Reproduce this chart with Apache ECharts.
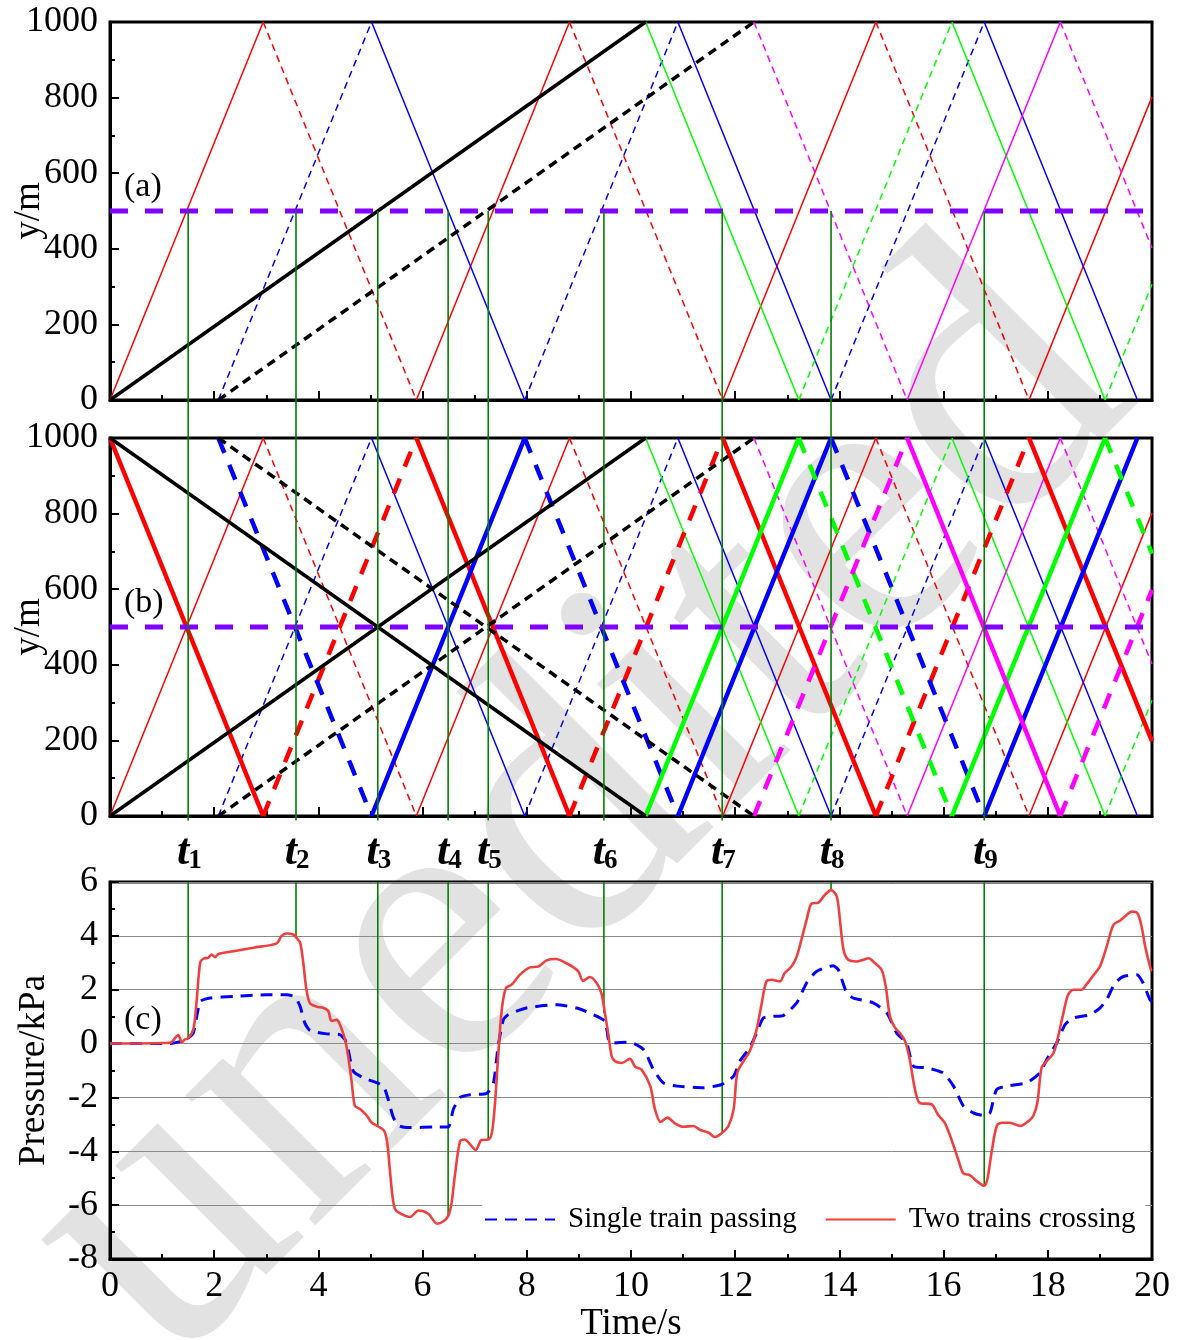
<!DOCTYPE html>
<html>
<head>
<meta charset="utf-8">
<title>Pressure waves and trains in a tunnel</title>
<script src="https://cdn.jsdelivr.net/npm/echarts/dist/echarts.min.js"></script>
<style>
  html, body { margin: 0; padding: 0; background: #fff; }
  #main { width: 1179px; height: 1340px; }
</style>
</head>
<body>
<div id="main"></div>
<script>
// ---- time-position paths (s, m) ----
// trains entering from y = 0
const trainUp1 = [[0, 0], [10.28, 1000]];
const trainUp2 = [[2.08, 0], [12.36, 1000]];
// trains entering from y = 1000
const trainDown1 = [[0, 1000], [10.28, 0]];
const trainDown2 = [[2.08, 1000], [12.36, 0]];

// pressure-wave fronts, vertex by vertex (reflections at the portals)
const waveRedUp = [[0, 0], [2.94, 1000], [5.88, 0], [8.82, 1000], [11.76, 0], [14.70, 1000], [17.64, 0], [20, 802]];
const waveBlueUp = [[2.08, 0], [5.02, 1000], [7.96, 0], [10.90, 1000], [13.84, 0], [16.78, 1000], [19.72, 0]];
const waveGreenDown = [[10.28, 1000], [13.22, 0], [16.16, 1000], [19.10, 0], [20, 306]];
const waveMagentaDown = [[12.36, 1000], [15.30, 0], [18.24, 1000], [20, 402]];

const waveRedDown = [[0, 1000], [2.94, 0], [5.88, 1000], [8.82, 0], [11.76, 1000], [14.70, 0], [17.64, 1000], [20, 198]];
const waveBlueDown = [[2.08, 1000], [5.02, 0], [7.96, 1000], [10.90, 0], [13.84, 1000], [16.78, 0], [19.72, 1000]];
const waveGreenUp = [[10.28, 0], [13.22, 1000], [16.16, 0], [19.10, 1000], [20, 694]];
const waveMagentaUp = [[12.36, 0], [15.30, 1000], [18.24, 0], [20, 598]];

// measuring point (m)
const measurePoint = 500;

// characteristic instants t1..t9 (s) and the crossing pressure at each (kPa)
const eventTimes = [1.50, 3.57, 5.14, 6.49, 7.26, 9.48, 11.75, 13.84, 16.78];
const eventPressure = [0.19, 3.93, -3.07, -6.41, -3.56, 1.13, -3.31, 5.70, -5.28];

// ---- pressure histories at the measuring point: [time s, pressure kPa] ----
const pressureSingle = [
  [0, 0], [1.15, 0], [1.40, 0.1], [1.50, 0.2], [1.60, 0.4], [1.69, 1.26], [1.73, 1.57], [1.92, 1.69],
  [2.37, 1.75], [3.00, 1.81], [3.39, 1.81], [3.55, 1.73], [3.65, 1.38], [3.74, 0.76], [3.84, 0.49],
  [4.16, 0.36], [4.41, 0.33], [4.51, 0.15], [4.57, -0.22], [4.67, -1.03], [4.86, -1.27], [5.13, -1.46],
  [5.25, -1.58], [5.34, -2.07], [5.44, -2.75], [5.56, -3.06], [5.76, -3.12], [6.21, -3.10], [6.49, -3.10],
  [6.59, -2.44], [6.72, -2.00], [6.91, -1.90], [7.23, -1.85], [7.36, -1.46], [7.45, -0.10], [7.55, 0.89],
  [7.64, 1.07], [7.99, 1.32], [8.57, 1.44], [8.96, 1.32], [9.21, 1.13], [9.50, 0.83], [9.60, 0.02],
  [9.98, 0.05], [10.24, -0.22], [10.43, -0.96], [10.62, -1.46], [10.88, -1.58], [11.39, -1.64],
  [11.74, -1.52], [11.97, -1.21], [12.09, -0.65], [12.28, -0.16], [12.41, 0.39], [12.54, 0.95],
  [12.73, 1.01], [12.92, 1.04], [13.18, 1.51], [13.37, 2.25], [13.56, 2.68], [13.88, 2.89], [13.98, 2.74],
  [14.14, 1.88], [14.27, 1.69], [14.65, 1.51], [14.91, 1.14], [15.10, 0.39], [15.29, 0.02], [15.42, -0.84],
  [15.67, -0.90], [15.99, -1.09], [16.19, -1.58], [16.38, -2.32], [16.57, -2.57], [16.76, -2.67],
  [16.89, -2.57], [17.02, -1.70], [17.27, -1.56], [17.59, -1.46], [17.85, -1.09], [17.98, -0.59],
  [18.17, 0.02], [18.33, 0.70], [18.49, 0.95], [18.81, 1.07], [19.00, 1.32], [19.13, 1.63], [19.29, 2.25],
  [19.45, 2.49], [19.71, 2.56], [19.83, 2.25], [19.96, 1.63], [20, 1.55]
];
const pressureCrossing = [
  [0, 0], [1.15, 0.03], [1.31, 0.32], [1.38, 0.04], [1.44, 0.16], [1.50, 0.19], [1.60, 0.53], [1.66, 1.52],
  [1.73, 3.0], [1.79, 3.15], [1.89, 3.19], [1.95, 3.31], [2.02, 3.21], [2.08, 3.33], [2.37, 3.43], [2.75, 3.56],
  [3.20, 3.72], [3.29, 3.99], [3.39, 4.09], [3.52, 4.05], [3.58, 3.93], [3.65, 3.74], [3.71, 3.0], [3.77, 2.01],
  [3.84, 1.49], [3.97, 1.37], [4.09, 1.33], [4.19, 1.21], [4.25, 0.84], [4.35, 0.88], [4.41, 0.72], [4.51, 0.16],
  [4.57, -0.46], [4.64, -1.44], [4.70, -2.31], [4.80, -2.43], [4.93, -2.68], [5.02, -2.93], [5.14, -3.07],
  [5.26, -3.23], [5.32, -3.67], [5.37, -4.65], [5.42, -5.64], [5.47, -6.14], [5.56, -6.30], [5.76, -6.44],
  [5.92, -6.20], [6.11, -6.32], [6.28, -6.69], [6.40, -6.60], [6.49, -6.41], [6.55, -6.0], [6.62, -4.9],
  [6.72, -3.62], [6.81, -3.56], [6.91, -3.74], [7.02, -3.95], [7.13, -3.58], [7.26, -3.56], [7.33, -3.31],
  [7.39, -2.2], [7.45, -0.47], [7.52, 1.26], [7.60, 2.06], [7.71, 2.19], [7.87, 2.56], [8.06, 2.83],
  [8.22, 2.86], [8.38, 3.09], [8.57, 3.14], [8.73, 3.01], [8.89, 2.84], [8.99, 2.68], [9.08, 2.33],
  [9.21, 2.47], [9.34, 2.25], [9.43, 1.88], [9.50, 1.13], [9.56, 0.39], [9.63, -0.47], [9.69, -0.65],
  [9.82, -0.72], [9.98, -0.57], [10.08, -0.86], [10.20, -0.96], [10.37, -1.58], [10.46, -2.44],
  [10.57, -2.91], [10.70, -2.75], [10.84, -2.96], [11.00, -3.09], [11.20, -3.06], [11.33, -3.21],
  [11.49, -3.31], [11.61, -3.47], [11.75, -3.31], [11.87, -3.06], [11.97, -2.44], [12.04, -1.09],
  [12.16, -0.65], [12.28, -0.28], [12.41, 0.52], [12.51, 1.51], [12.60, 2.31], [12.70, 2.37], [12.86, 2.31],
  [12.95, 2.62], [13.08, 2.86], [13.18, 3.23], [13.27, 3.85], [13.37, 4.59], [13.47, 5.21], [13.59, 5.23],
  [13.72, 5.52], [13.84, 5.70], [13.95, 5.46], [14.01, 4.59], [14.08, 3.48], [14.17, 3.11], [14.33, 3.05],
  [14.43, 3.09], [14.56, 3.17], [14.68, 2.99], [14.81, 2.74], [14.89, 2.12], [14.97, 1.01], [15.07, 0.58],
  [15.16, 0.39], [15.26, 0.09], [15.35, -0.59], [15.45, -1.70], [15.54, -2.20], [15.77, -2.26],
  [15.89, -2.63], [16.02, -2.94], [16.15, -3.56], [16.28, -4.30], [16.38, -4.82], [16.51, -4.89],
  [16.63, -5.10], [16.78, -5.28], [16.84, -5.04], [16.92, -4.05], [17.02, -3.06], [17.12, -2.94],
  [17.27, -2.94], [17.47, -3.06], [17.63, -2.88], [17.72, -2.69], [17.80, -2.20], [17.88, -0.90],
  [17.98, -0.65], [18.11, -0.35], [18.20, 0.27], [18.30, 1.14], [18.39, 1.81], [18.49, 2.00], [18.65, 2.00],
  [18.74, 2.19], [18.87, 2.52], [19.00, 2.86], [19.13, 3.60], [19.26, 4.41], [19.39, 4.57], [19.48, 4.72],
  [19.61, 4.90], [19.72, 4.84], [19.80, 4.35], [19.87, 3.60], [19.98, 2.74], [20, 2.70]
];

// ---- axis ticks ----
const timeRange = [0, 20, 2];
const positionRange = [0, 1000, 200];
const pressureRange = [-8, 6, 2];
const eventLabels = ['1', '2', '3', '4', '5', '6', '7', '8', '9'];

// ---- drawing ----
const FONT = '"Liberation Serif", "Times New Roman", serif';
const RED = '#ff0000', BLUE = '#0000ff', GREEN = '#00ff00', MAGENTA = '#ff00ff';
const THIN = 1.5, THICK = 4.5;
const THIN_DASH = [7, 5], THICK_DASH = [16, 13];

// one line series per segment; solid and dashed alternate after each reflection
function pathSeries(path, g, color, width, dash, dashedFirst, z) {
  const out = [];
  for (let i = 0; i < path.length - 1; i++) {
    const dashed = dashedFirst ? (i % 2 === 0) : (i % 2 === 1);
    out.push({
      type: 'line', xAxisIndex: g, yAxisIndex: g, data: [path[i], path[i + 1]],
      symbol: 'none', silent: true, z: z,
      lineStyle: { color: color, width: width, type: dashed ? dash : 'solid' }
    });
  }
  return out;
}

const series = [];
[0, 1].forEach(function (g) {
  series.push(...pathSeries(waveRedUp, g, RED, THIN, THIN_DASH, false, 2));
  series.push(...pathSeries(waveBlueUp, g, BLUE, THIN, THIN_DASH, true, 2));
  series.push(...pathSeries(waveGreenDown, g, GREEN, THIN, THIN_DASH, false, 2));
  series.push(...pathSeries(waveMagentaDown, g, MAGENTA, THIN, THIN_DASH, true, 2));
  series.push(...pathSeries(trainUp1, g, '#000', 3.5, [9, 6], false, 4));
  series.push(...pathSeries(trainUp2, g, '#000', 3.5, [9, 6], true, 4));
});
series.push(...pathSeries(waveRedDown, 1, RED, THICK, THICK_DASH, false, 3));
series.push(...pathSeries(waveBlueDown, 1, BLUE, THICK, THICK_DASH, true, 3));
series.push(...pathSeries(waveGreenUp, 1, GREEN, THICK, THICK_DASH, false, 3));
series.push(...pathSeries(waveMagentaUp, 1, MAGENTA, THICK, THICK_DASH, true, 3));
series.push(...pathSeries(trainDown1, 1, '#000', 3.5, [9, 6], false, 4));
series.push(...pathSeries(trainDown2, 1, '#000', 3.5, [9, 6], true, 4));

// measuring-point line
[0, 1].forEach(function (g) {
  series.push({
    type: 'line', xAxisIndex: g, yAxisIndex: g, symbol: 'none', silent: true, z: 5,
    data: [[timeRange[0], measurePoint], [timeRange[1], measurePoint]],
    lineStyle: { color: '#7f00ff', width: 5, type: [18, 17] }
  });
});

// event markers: from the measuring point in (a) through (b), and down to the curve in (c)
eventTimes.forEach(function (t, i) {
  const base = { type: 'line', symbol: 'none', silent: true, z: 6, lineStyle: { color: '#008000', width: 1.6 } };
  series.push(Object.assign({}, base, { xAxisIndex: 0, yAxisIndex: 0, clip: false, data: [[t, measurePoint], [t, -100]] }));
  series.push(Object.assign({}, base, { xAxisIndex: 1, yAxisIndex: 1, clip: false, data: [[t, 1000], [t, -12]] }));
  series.push(Object.assign({}, base, { xAxisIndex: 2, yAxisIndex: 2, data: [[t, pressureRange[1]], [t, eventPressure[i]]] }));
});

series.push({
  name: 'Single train passing', type: 'line', xAxisIndex: 2, yAxisIndex: 2, symbol: 'none', smooth: 0.2, z: 7,
  data: pressureSingle, lineStyle: { color: BLUE, width: 3, type: [12, 8] }, itemStyle: { color: BLUE }
});
series.push({
  name: 'Two trains crossing', type: 'line', xAxisIndex: 2, yAxisIndex: 2, symbol: 'none', smooth: 0.3, z: 8,
  data: pressureCrossing, lineStyle: { color: '#ef4040', width: 2.6 }, itemStyle: { color: '#ef4040' }
});

const gridBox = { left: 110, width: 1042, show: true, borderColor: '#000', borderWidth: 3, outerBoundsMode: 'none', containLabel: false };

function plainNumber(v) { return String(v); }

function xAxis(g) {
  return {
    gridIndex: g, type: 'value', min: timeRange[0], max: timeRange[1], interval: timeRange[2],
    axisLine: { onZero: false, lineStyle: { color: '#000', width: 3 } },
    axisTick: { inside: true, length: 9, lineStyle: { color: '#000', width: 2 } },
    minorTick: { show: true, splitNumber: 2, length: 5, lineStyle: { color: '#000', width: 2 } },
    splitLine: { show: false },
    axisLabel: { show: g === 2, fontFamily: FONT, fontSize: 36, color: '#000', margin: 10, formatter: plainNumber },
    name: g === 2 ? 'Time/s' : '', nameLocation: 'middle', nameGap: 47, nameMoveOverlap: false,
    nameTextStyle: { fontFamily: FONT, fontSize: 37, color: '#000' }
  };
}
function yAxis(g, range, name, gap) {
  return {
    gridIndex: g, type: 'value', min: range[0], max: range[1], interval: range[2],
    axisLine: { onZero: false, lineStyle: { color: '#000', width: 3 } },
    axisTick: { inside: true, length: 9, lineStyle: { color: '#000', width: 2 } },
    minorTick: { show: true, splitNumber: 2, length: 5, lineStyle: { color: '#000', width: 2 } },
    splitLine: { show: g === 2, lineStyle: { color: '#8a8a8a', width: 1 } },
    axisLabel: { fontFamily: FONT, fontSize: 36, color: '#000', margin: 12, formatter: plainNumber },
    name: name, nameLocation: 'middle', nameGap: gap, nameMoveOverlap: false,
    nameTextStyle: { fontFamily: FONT, fontSize: 37, color: '#000' }
  };
}

const chart = echarts.init(document.getElementById('main'));
chart.setOption({
  animation: false,
  backgroundColor: '#fff',
  grid: [
    Object.assign({ top: 22, height: 378 }, gridBox),
    Object.assign({ top: 438, height: 378 }, gridBox),
    Object.assign({ top: 882, height: 377 }, gridBox)
  ],
  xAxis: [xAxis(0), xAxis(1), xAxis(2)],
  yAxis: [
    yAxis(0, positionRange, 'y/m', 62),
    yAxis(1, positionRange, 'y/m', 62),
    yAxis(2, pressureRange, 'Pressure/kPa', 57)
  ],
  legend: {
    data: ['Single train passing', 'Two trains crossing'],
    left: 482, top: 1201, itemWidth: 70, itemHeight: 14, itemGap: 28,
    itemStyle: { opacity: 0 },
    backgroundColor: '#fff', padding: [4, 10, 4, 2],
    textStyle: { fontFamily: FONT, fontSize: 29, color: '#000', padding: [0, 0, 0, 8] }
  },
  series: series
});

// watermark, panel tags and event labels
const graphics = [
  {
    type: 'text', x: 580, y: 812, rotation: Math.PI / 4, z: -10, silent: true,
    style: { text: 'unedited', font: '400px ' + FONT, fill: '#e2e2e2', align: 'center', verticalAlign: 'middle' }
  },
  { type: 'text', left: 124, top: 170, z: 10, style: { text: '(a)', font: '34px ' + FONT, fill: '#000' } },
  { type: 'text', left: 124, top: 586, z: 10, style: { text: '(b)', font: '34px ' + FONT, fill: '#000' } },
  { type: 'text', left: 124, top: 1003, z: 10, style: { text: '(c)', font: '34px ' + FONT, fill: '#000' } }
];
eventTimes.forEach(function (t, i) {
  const px = chart.convertToPixel({ xAxisIndex: 2 }, t);
  graphics.push({
    type: 'text', x: px + 1, y: 853, z: 10,
    style: { text: 't', font: 'italic bold 44px ' + FONT, fill: '#000', align: 'right', verticalAlign: 'middle' }
  });
  graphics.push({
    type: 'text', x: px, y: 861, z: 10,
    style: { text: eventLabels[i], font: 'bold 27px ' + FONT, fill: '#000', align: 'left', verticalAlign: 'middle' }
  });
});
chart.setOption({ graphic: graphics });
</script>
</body>
</html>
